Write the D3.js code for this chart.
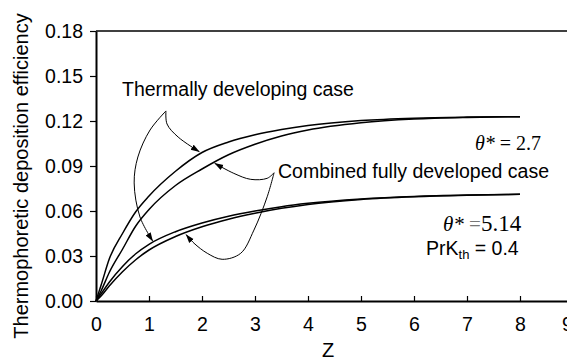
<!DOCTYPE html>
<html>
<head>
<meta charset="utf-8">
<script src="https://cdn.jsdelivr.net/npm/d3@7"></script>
<style>
  html, body { margin: 0; padding: 0; background: #fff; }
  svg { display: block; }
  text { font-family: "Liberation Sans", Arial, sans-serif; fill: #000; }
  .serif { font-family: "Liberation Serif", "Times New Roman", serif; }
</style>
</head>
<body>
<svg id="chart" width="567" height="361"></svg>
<script>
// Axial position Z at which efficiencies are tabulated
const zValues = [0, 0.1, 0.25, 0.5, 0.75, 1, 1.5, 2, 2.5, 3, 3.5, 4, 5, 6, 7, 8];

// theta* = 2.7
const thermal27  = [0, 0.011, 0.028, 0.045, 0.0595, 0.070, 0.0865, 0.0990, 0.1060, 0.1108, 0.1143, 0.1170, 0.1203, 0.1219, 0.1226, 0.1229];
const combined27 = [0, 0.007, 0.019, 0.0345, 0.050, 0.061, 0.0770, 0.0880, 0.0975, 0.1045, 0.1100, 0.1140, 0.1188, 0.1213, 0.1224, 0.1229];

// theta* = 5.14
const thermal514  = [0, 0.005, 0.0125, 0.0230, 0.0315, 0.0378, 0.0462, 0.0520, 0.0565, 0.0600, 0.0629, 0.0651, 0.0680, 0.0697, 0.0706, 0.0711];
const combined514 = [0, 0.0035, 0.0100, 0.0195, 0.0275, 0.0340, 0.0430, 0.0495, 0.0545, 0.0585, 0.0618, 0.0644, 0.0677, 0.0695, 0.0705, 0.0711];

const xTicks = [0, 1, 2, 3, 4, 5, 6, 7, 8, 9];
const yTicks = [0, 0.03, 0.06, 0.09, 0.12, 0.15, 0.18];

// Callout leader lines, in (Z, efficiency) coordinates
const thermalLeaderA = [[1.32, 0.1267], [1.34, 0.1180], [1.55, 0.1093], [1.95, 0.0995]];
const thermalLeaderB = [[1.32, 0.1267], [1.02, 0.1140], [0.79, 0.0960], [0.72, 0.0787], [0.83, 0.0560], [1.07, 0.0400]];
const combinedLeaderA = [[3.36, 0.0855], [3.23, 0.0818], [2.92, 0.0811], [2.60, 0.0851], [2.24, 0.0918]];
const combinedLeaderB = [[3.36, 0.0855], [3.23, 0.0695], [2.98, 0.0473], [2.73, 0.0318], [2.38, 0.0278], [2.10, 0.0318], [1.85, 0.0385], [1.70, 0.0443]];

const svg = d3.select("#chart");
const plotLeft = 96, plotRight = 573, plotTop = 31, plotBottom = 301;

const x = d3.scaleLinear().domain([0, 9]).range([plotLeft, plotRight]);
const y = d3.scaleLinear().domain([0, 0.18]).range([plotBottom, plotTop]);

// arrowhead for leader lines
svg.append("defs").append("marker")
  .attr("id", "arrow")
  .attr("viewBox", "0 -4 9 8")
  .attr("refX", 8.5).attr("refY", 0)
  .attr("markerWidth", 9).attr("markerHeight", 8)
  .attr("markerUnits", "userSpaceOnUse")
  .attr("orient", "auto")
  .append("path").attr("d", "M0,-3L9,0L0,3Z").attr("fill", "#000");

// frame: top and right edges
svg.append("line").attr("x1", plotLeft).attr("x2", plotRight).attr("y1", y(0.18)).attr("y2", y(0.18))
  .attr("stroke", "#000").attr("stroke-width", 1.3);
svg.append("line").attr("x1", plotRight).attr("x2", plotRight).attr("y1", plotTop).attr("y2", plotBottom)
  .attr("stroke", "#000").attr("stroke-width", 1.3);

// y axis
const yAxis = svg.append("g").attr("transform", `translate(${plotLeft},0)`)
  .call(d3.axisLeft(y).tickValues(yTicks).tickFormat(d3.format(".2f"))
    .tickSizeInner(6).tickSizeOuter(0).tickPadding(7));
yAxis.select(".domain").attr("stroke-width", 2);
yAxis.selectAll(".tick line").attr("stroke-width", 1.2);
yAxis.selectAll("text").style("font-size", "19.5px").style("font-family", "Liberation Sans, Arial, sans-serif");

// x axis, ticks pointing inward
const xAxis = svg.append("g").attr("transform", `translate(0,${plotBottom})`)
  .call(d3.axisBottom(x).tickValues(xTicks).tickFormat(d3.format("d"))
    .tickSizeInner(-5).tickSizeOuter(0).tickPadding(16));
xAxis.select(".domain").attr("stroke-width", 2.2);
xAxis.selectAll(".tick line").attr("stroke-width", 1.2);
xAxis.selectAll("text").style("font-size", "19.5px").style("font-family", "Liberation Sans, Arial, sans-serif");
// keep the last label inside the chart area
xAxis.selectAll(".tick").filter(d => d === 9).select("text").attr("dx", -6);

// axis titles
svg.append("text").attr("x", 328).attr("y", 357).attr("text-anchor", "middle")
  .style("font-size", "20px").text("Z");
svg.append("text").attr("transform", "translate(28,176) rotate(-90)").attr("text-anchor", "middle")
  .style("font-size", "20px").text("Thermophoretic deposition efficiency");

// efficiency curves
const line = d3.line().x(d => x(d[0])).y(d => y(d[1])).curve(d3.curveMonotoneX);
[thermal27, combined27, thermal514, combined514].forEach(series => {
  svg.append("path")
    .datum(zValues.map((z, i) => [z, series[i]]))
    .attr("d", line)
    .attr("fill", "none").attr("stroke", "#000").attr("stroke-width", 1.5);
});

// leader lines
const leader = d3.line().x(d => x(d[0])).y(d => y(d[1])).curve(d3.curveCatmullRom.alpha(0.5));
[thermalLeaderA, thermalLeaderB, combinedLeaderA, combinedLeaderB].forEach(pts => {
  svg.append("path").datum(pts).attr("d", leader)
    .attr("fill", "none").attr("stroke", "#000").attr("stroke-width", 1)
    .attr("marker-end", "url(#arrow)");
});

// annotation labels
svg.append("text").attr("x", 122).attr("y", 96).style("font-size", "19.5px").text("Thermally developing case");
svg.append("text").attr("x", 278).attr("y", 178).style("font-size", "19.5px").text("Combined fully developed case");

const t1 = svg.append("text").attr("class", "serif").attr("x", 475).attr("y", 150).style("font-size", "20px");
t1.append("tspan").style("font-style", "italic").text("θ*");
t1.append("tspan").text(" = 2.7");

const t2 = svg.append("text").attr("class", "serif").attr("x", 443).attr("y", 231).style("font-size", "21px");
t2.append("tspan").style("font-style", "italic").text("θ*");
t2.append("tspan").style("fill", "#777").text(" =");
t2.append("tspan").style("font-size", "23px").text("5.14");

const t3 = svg.append("text").attr("x", 426).attr("y", 255).style("font-size", "19.5px");
t3.append("tspan").text("PrK");
t3.append("tspan").attr("dy", 4).style("font-size", "13px").text("th");
t3.append("tspan").attr("dy", -4).text(" = 0.4");
</script>
</body>
</html>
